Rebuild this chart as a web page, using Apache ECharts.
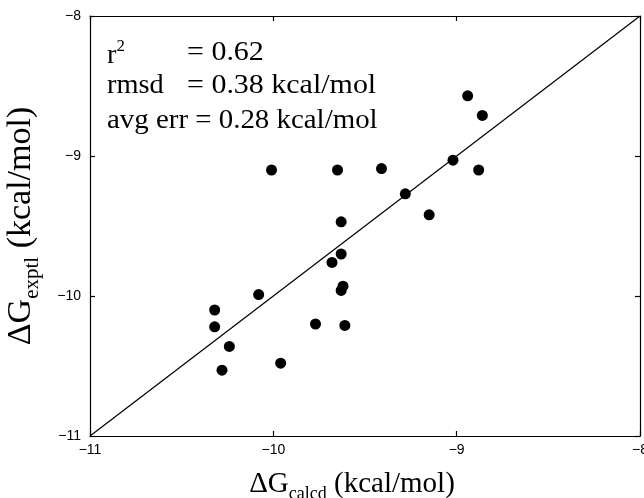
<!DOCTYPE html>
<html>
<head>
<meta charset="utf-8">
<style>
  html, body { margin: 0; padding: 0; background: #fff; }
  #chart { width: 644px; height: 498px; }
</style>
<script src="https://cdn.jsdelivr.net/npm/echarts@6/dist/echarts.min.js"></script>
</head>
<body>
<div id="chart"></div>
<script>
// ---- data ----
const calcd = [-10.01, -9.65, -9.41, -9.02, -8.88, -8.86, -8.94, -9.28, -9.15, -9.63, -9.63,
               -9.68, -9.62, -9.63, -10.08, -10.32, -10.32, -9.77, -9.61, -10.24, -10.28, -9.96];
const exptl = [-9.10, -9.10, -9.09, -9.03, -9.10, -8.71, -8.57, -9.27, -9.42, -9.47, -9.70,
               -9.76, -9.93, -9.96, -9.99, -10.10, -10.22, -10.20, -10.21, -10.36, -10.53, -10.48];
const identityLine = [[-11, -11], [-8, -8]];
const axisMin = -11, axisMax = -8, axisStep = 1;
const statNames = ['r', 'rmsd'];
const statValues = ['= 0.62', '= 0.38 kcal/mol'];
const statRow3 = 'avg err = 0.28 kcal/mol';

const points = calcd.map((x, i) => [x, exptl[i]]);
const fmt = v => String(v).replace('-', '\u2212');

const serif = '"Liberation Serif", "Times New Roman", serif';
const sans = '"Liberation Sans", Arial, sans-serif';

const chart = echarts.init(document.getElementById('chart'), null, { renderer: 'canvas' });

const baseAxis = {
  min: axisMin, max: axisMax, interval: axisStep,
  axisLine: { show: true, lineStyle: { color: '#000', width: 1.2 } },
  axisTick: { show: true, inside: true, length: 5, lineStyle: { color: '#000', width: 1.2 } },
  splitLine: { show: false }
};

const option = {
  animation: false,
  backgroundColor: '#fff',
  grid: { left: 90, right: 4, top: 16, bottom: 62, containLabel: false, outerBoundsMode: 'none' },
  xAxis: [
    Object.assign({}, baseAxis, {
      type: 'value', position: 'bottom',
      axisLabel: { show: true, formatter: fmt, fontFamily: sans, fontSize: 14, color: '#000', margin: 7 },
      name: '{a|\u0394G}{s|calcd}{a| (kcal/mol)}',
      nameLocation: 'middle', nameGap: 29,
      nameTextStyle: {
        padding: [0, 26, 0, 0],
        rich: {
          a: { fontFamily: serif, fontSize: 29, color: '#000', lineHeight: 38, verticalAlign: 'middle' },
          s: { fontFamily: serif, fontSize: 18, color: '#000', lineHeight: 14, verticalAlign: 'bottom' }
        }
      }
    }),
    Object.assign({}, baseAxis, {
      type: 'value', position: 'top',
      axisLabel: { show: false }
    })
  ],
  yAxis: [
    Object.assign({}, baseAxis, {
      type: 'value', position: 'left',
      axisLabel: { show: true, formatter: fmt, fontFamily: sans, fontSize: 14, color: '#000', margin: 9 },
      name: '{a|\u0394G}{s|exptl}{a| (kcal/mol)}',
      nameLocation: 'middle', nameGap: 47,
      nameTextStyle: {
        rich: {
          a: { fontFamily: serif, fontSize: 34, color: '#000', lineHeight: 44, verticalAlign: 'middle' },
          s: { fontFamily: serif, fontSize: 21, color: '#000', lineHeight: 17, verticalAlign: 'bottom' }
        }
      }
    }),
    Object.assign({}, baseAxis, {
      type: 'value', position: 'right',
      axisLabel: { show: false }
    })
  ],
  series: [
    {
      type: 'line',
      data: identityLine,
      symbol: 'none',
      lineStyle: { color: '#000', width: 1.2 },
      silent: true,
      z: 2
    },
    {
      type: 'scatter',
      data: points,
      symbol: 'circle',
      symbolSize: 11,
      itemStyle: { color: '#000', opacity: 1 },
      z: 3
    }
  ],
  graphic: [
    {
      type: 'text', x: 107, y: 39, scaleX: 1.05,
      style: {
        text: '{a|' + statNames[0] + '}{p|2}',
        rich: {
          a: { fontFamily: serif, fontSize: 27, fill: '#000', verticalAlign: 'bottom', lineHeight: 30 },
          p: { fontFamily: serif, fontSize: 16, fill: '#000', verticalAlign: 'top', lineHeight: 30 }
        }
      }
    },
    { type: 'text', x: 107, y: 72, scaleX: 1.05, style: { text: statNames[1], font: '27px ' + serif, fill: '#000' } },
    { type: 'text', x: 187, y: 39, scaleX: 1.11, style: { text: statValues[0], font: '27px ' + serif, fill: '#000' } },
    { type: 'text', x: 187, y: 72, scaleX: 1.11, style: { text: statValues[1], font: '27px ' + serif, fill: '#000' } },
    { type: 'text', x: 107, y: 107, scaleX: 1.07, style: { text: statRow3, font: '27px ' + serif, fill: '#000' } }
  ]
};

chart.setOption(option);
</script>
</body>
</html>
